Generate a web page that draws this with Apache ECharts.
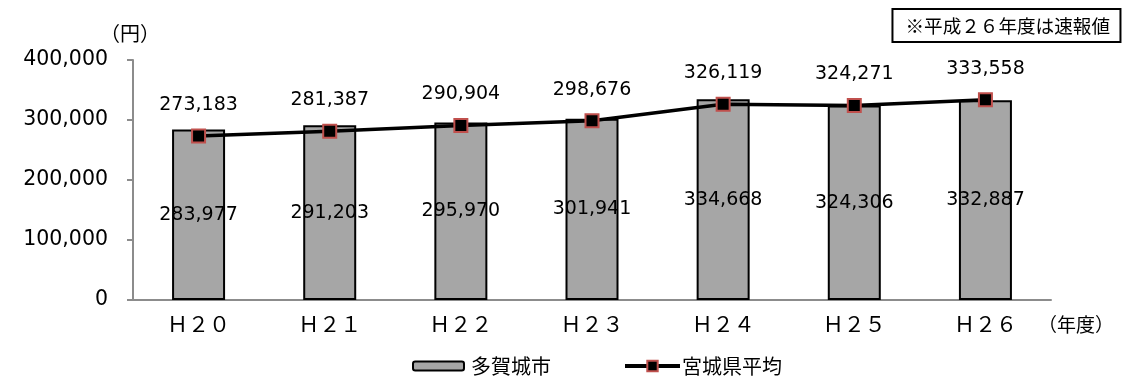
<!DOCTYPE html>
<html>
<head>
<meta charset="utf-8">
<script src="https://cdn.jsdelivr.net/npm/echarts@6/dist/echarts.min.js"></script>
<style>
  html, body { margin: 0; padding: 0; background: #fff; }
  #chart { width: 1123px; height: 378px; }
</style>
</head>
<body>
<div id="chart"></div>
<script>
// 年度（平成）
const categories = ['Ｈ２０', 'Ｈ２１', 'Ｈ２２', 'Ｈ２３', 'Ｈ２４', 'Ｈ２５', 'Ｈ２６'];
// 多賀城市（円）
const tagajoValues = [283977, 291203, 295970, 301941, 334668, 324306, 332887];
// 宮城県平均（円）
const miyagiValues = [273183, 281387, 290904, 298676, 326119, 324271, 333558];
// 縦軸目盛
const yTicks = [0, 100000, 200000, 300000, 400000];

const JP = '"Noto Sans CJK JP", sans-serif';
const NUM = '"DejaVu Sans", sans-serif';
const fmt = v => v.toLocaleString('en-US');

const chart = echarts.init(document.getElementById('chart'), null, { renderer: 'canvas' });
chart.setOption({
  animation: false,
  backgroundColor: '#ffffff',
  textStyle: { fontFamily: JP, color: '#000' },
  title: {
    text: '※平成２６年度は速報値',
    right: 2, top: 9,
    borderColor: '#000', borderWidth: 2,
    padding: [6, 11, 6, 13],
    textStyle: { fontFamily: JP, fontSize: 18.6, lineHeight: 21, fontWeight: 'normal', color: '#000' }
  },
  grid: { left: 133, right: 72, top: 60, bottom: 78 },
  legend: [
    {
      data: ['多賀城市'],
      left: 412, top: 356, padding: 0,
      itemWidth: 51, itemHeight: 9, itemGap: 6,
      textStyle: { fontFamily: JP, fontSize: 20, color: '#000', padding: [0, 0, 0, 2] }
    },
    {
      data: ['宮城県平均'],
      left: 623, top: 356, padding: 0,
      itemWidth: 55, itemHeight: 13,
      lineStyle: { width: 4, color: '#000' },
      textStyle: { fontFamily: JP, fontSize: 20, color: '#000', padding: [0, 0, 0, -3] }
    }
  ],
  xAxis: {
    type: 'category',
    data: categories,
    name: '（年度）',
    nameLocation: 'end',
    nameGap: -13,
    nameTextStyle: { fontFamily: JP, fontSize: 19, color: '#000', verticalAlign: 'top', padding: [15, 0, 0, 0] },
    axisLine: { lineStyle: { color: '#8c8c8c', width: 2 } },
    axisTick: { show: false },
    axisLabel: { fontFamily: JP, fontSize: 21, color: '#000', margin: 14 }
  },
  yAxis: {
    type: 'value',
    min: yTicks[0], max: yTicks[yTicks.length - 1], interval: 100000,
    name: '（円）',
    nameLocation: 'end',
    nameGap: 17,
    nameTextStyle: { fontFamily: JP, fontSize: 20, color: '#000', align: 'right', padding: [0, -27, 0, 0] },
    axisLine: { show: true, lineStyle: { color: '#8c8c8c', width: 2 } },
    axisTick: { show: true, inside: false, length: 6, lineStyle: { color: '#8c8c8c', width: 2 } },
    splitLine: { show: false },
    axisLabel: { fontFamily: NUM, fontSize: 20.5, color: '#000', margin: 25, formatter: v => fmt(v) }
  },
  series: [
    {
      name: '多賀城市',
      type: 'bar',
      data: tagajoValues,
      barWidth: 53,
      itemStyle: { color: '#a6a6a6', borderColor: '#000', borderWidth: 2 },
      label: {
        show: true, position: 'inside',
        fontFamily: NUM, fontSize: 19, color: '#000',
        formatter: p => fmt(p.value)
      },
      z: 2
    },
    {
      name: '宮城県平均',
      type: 'line',
      data: miyagiValues,
      symbol: 'rect',
      symbolSize: 13,
      lineStyle: { color: '#000', width: 3.5 },
      itemStyle: { color: '#000', borderColor: '#c0504d', borderWidth: 2 },
      label: {
        show: true, position: 'top', distance: 14,
        fontFamily: NUM, fontSize: 19, color: '#000',
        formatter: p => fmt(p.value)
      },
      z: 3
    }
  ]
});
</script>
</body>
</html>
